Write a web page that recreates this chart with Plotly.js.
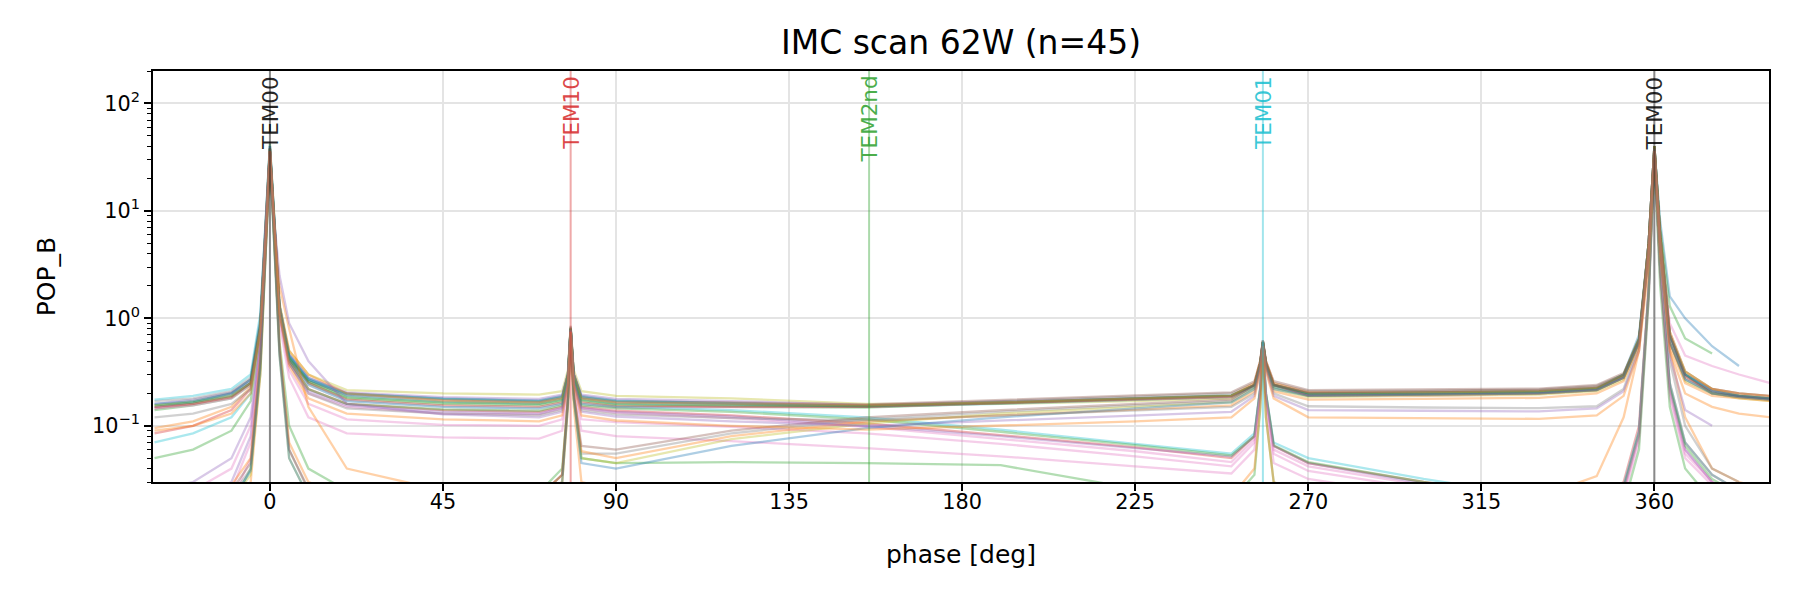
<!DOCTYPE html>
<html>
<head>
<meta charset="utf-8">
<script src="https://cdn.plot.ly/plotly-3.0.1.min.js"></script>
<style>
  html, body { margin: 0; padding: 0; background: #fff; }
  #plotDiv { width: 1800px; height: 600px; }
</style>
</head>
<body>
<div id="plotDiv"></div>
<script>
// IMC phase scans, POP_B vs phase.
// all scans share one phase grid (denser around the resonances).
const phase = [
  -30, -20, -10, -5, -2.5, -1, 0, 1, 2.5, 5, 10, 20, 45, 70, 76, 77.5, 78.2, 79, 81, 90, 120, 155,
  190, 225, 250, 256, 257.5, 258.2, 259, 261, 270, 300, 330, 345, 352, 356, 358.5, 360, 361.5, 364, 368, 375, 382, 390
];

// upper band
const scan01 = [0.155,0.17,0.2,0.27,0.9,8,42,11,1.4,0.5,0.3,0.215,0.2,0.195,0.21,0.33,0.85,0.33,0.21,0.19,0.18,0.16,
  0.16,0.17,0.18,0.23,0.37,0.6,0.37,0.23,0.19,0.195,0.2,0.215,0.28,0.6,4.5,40,5,0.7,0.32,0.22,0.19,0.18];
const scan02 = [0.15,0.165,0.2,0.26,0.85,7,38,9,1.3,0.46,0.28,0.2,0.18,0.172,0.19,0.3,0.8,0.3,0.19,0.172,0.163,0.152,
  0.165,0.18,0.19,0.24,0.38,0.6,0.38,0.24,0.2,0.2,0.205,0.22,0.3,0.7,5,38,8,1.6,1.0,0.55,0.36,null];
const scan03 = [0.16,0.175,0.205,0.27,0.95,8,40,10,1.3,0.46,0.28,0.205,0.185,0.178,0.195,0.31,0.85,0.31,0.195,0.178,0.17,0.156,
  0.168,0.182,0.192,0.24,0.38,0.62,0.38,0.24,0.2,0.202,0.208,0.222,0.29,0.62,5,40,6,0.7,0.3,0.21,0.19,0.18];
const scan04 = [0.17,0.18,0.21,0.28,1.0,9,40,10,1.3,0.44,0.27,0.2,0.178,0.17,0.185,0.3,0.82,0.3,0.185,0.17,0.163,0.155,
  0.17,0.188,0.2,0.25,0.4,0.62,0.4,0.25,0.21,0.212,0.218,0.235,0.3,0.65,5,40,6,0.75,0.32,0.22,0.2,0.19];
const scan05 = [0.145,0.16,0.19,0.25,0.85,7,38,9,1.2,0.42,0.26,0.195,0.175,0.168,0.185,0.3,0.8,0.3,0.185,0.168,0.165,0.158,
  0.175,0.192,0.205,0.26,0.4,0.62,0.4,0.26,0.215,0.218,0.222,0.24,0.31,0.65,5,40,6,0.7,0.3,0.22,0.2,0.19];
const scan06 = [0.175,0.19,0.22,0.3,1.1,9,42,10,1.3,0.44,0.27,0.198,0.178,0.17,0.185,0.3,0.82,0.3,0.185,0.17,0.16,0.15,
  0.16,0.175,0.185,0.23,0.37,0.6,0.37,0.23,0.195,0.198,0.205,0.22,0.29,0.6,5,40,6,0.7,0.3,0.21,0.19,0.18];
const scan07 = [0.14,0.155,0.18,0.24,0.8,7,38,9,1.2,0.42,0.25,0.18,0.16,0.155,0.17,0.28,0.8,0.28,0.17,0.155,0.15,0.148,
  0.162,0.178,0.19,0.24,0.38,0.6,0.38,0.24,0.195,0.198,0.205,0.22,0.29,0.6,5,40,6,0.7,0.3,0.2,0.19,0.18];
const scan08 = [0.145,0.155,0.18,0.24,0.8,7,36,9,1.2,0.4,0.24,0.17,0.15,0.145,0.16,0.27,0.78,0.27,0.16,0.148,0.148,0.15,
  0.165,0.178,0.188,0.24,0.38,0.6,0.38,0.24,0.19,0.19,0.198,0.215,0.28,0.6,5,38,6,0.9,0.45,0.36,0.3,0.25];
const scan09 = [0.15,0.16,0.185,0.25,0.8,7,38,9,1.2,0.42,0.25,0.175,0.155,0.15,0.165,0.28,0.8,0.28,0.165,0.152,0.15,0.15,
  0.162,0.175,0.185,0.24,0.38,0.6,0.38,0.24,0.192,0.195,0.2,0.215,0.28,0.6,5,40,6,0.7,0.29,0.2,0.185,0.175];
const scan10 = [0.16,0.17,0.2,0.27,0.9,8,40,10,1.3,0.45,0.27,0.19,0.168,0.162,0.178,0.3,0.82,0.3,0.178,0.162,0.158,0.153,
  0.165,0.18,0.19,0.24,0.38,0.62,0.38,0.24,0.2,0.205,0.21,0.225,0.29,0.62,5,40,6,0.7,0.3,0.21,0.19,0.18];
const scan11 = [0.155,0.165,0.19,0.25,0.85,7,38,9,1.2,0.43,0.26,0.185,0.165,0.16,0.175,0.29,0.8,0.29,0.175,0.16,0.155,0.152,
  0.165,0.18,0.192,0.24,0.38,0.6,0.38,0.24,0.2,0.205,0.21,0.225,0.3,0.65,5,40,7,1.3,0.65,0.47,null,null];
const scan12 = [0.095,0.11,0.15,0.23,0.8,7,38,9,1.3,0.5,0.3,0.2,0.172,0.165,0.18,0.3,0.82,0.3,0.18,0.165,0.16,0.155,
  0.165,0.18,0.19,0.25,0.4,0.62,0.4,0.25,0.205,0.205,0.21,0.225,0.29,0.62,5,40,6,0.75,0.32,0.22,0.2,0.19];

// scans that fall off after TEM10
const scan13 = [0.085,0.1,0.14,0.22,0.8,7,38,9,1.2,0.4,0.22,0.16,0.14,0.135,0.15,0.27,0.8,0.27,0.15,0.138,0.125,0.105,
  0.082,0.063,0.05,0.08,0.22,0.55,0.2,0.065,0.045,0.03,0.022,0.02,0.03,0.1,2,35,3,0.25,0.07,0.035,0.025,0.02];
const scan14 = [0.02,0.025,0.04,0.1,0.6,6,36,8,1.1,0.38,0.2,0.15,0.13,0.128,0.145,0.26,0.78,0.26,0.145,0.132,0.118,0.098,
  0.075,0.058,0.046,0.075,0.2,0.55,0.18,0.06,0.042,0.028,0.02,0.018,0.025,0.08,1.8,34,3,0.22,0.06,0.03,0.022,0.02];
const scan15 = [0.07,0.085,0.12,0.2,0.8,7,38,9,1.2,0.42,0.24,0.17,0.15,0.145,0.16,0.28,0.8,0.28,0.16,0.15,0.14,0.12,
  0.092,0.068,0.055,0.085,0.23,0.58,0.2,0.07,0.05,0.032,0.022,0.02,0.028,0.09,1.8,35,3,0.25,0.07,0.035,0.025,0.02];
const scan16 = [0.015,0.02,0.03,0.08,0.6,6,35,8,1.1,0.38,0.21,0.155,0.135,0.13,0.147,0.26,0.78,0.26,0.147,0.135,0.122,0.1,
  0.08,0.062,0.052,0.08,0.22,0.55,0.19,0.065,0.045,0.029,0.021,0.019,0.027,0.085,1.8,34,3,0.22,0.06,0.03,0.022,0.02];
const scan17 = [0.05,0.06,0.09,0.17,0.7,6,36,8,1.1,0.4,0.22,0.16,0.142,0.138,0.155,0.27,0.8,0.27,0.155,0.145,0.135,0.115,
  0.088,0.066,0.053,0.08,0.22,0.56,0.2,0.066,0.046,0.03,0.021,0.019,0.026,0.085,1.8,35,3,0.23,0.065,0.032,0.023,0.02];
const scan18 = [0.012,0.015,0.025,0.07,0.5,5,34,7,1.0,0.33,0.16,0.115,0.102,0.1,0.115,0.24,0.75,0.24,0.115,0.108,0.098,0.085,
  0.068,0.052,0.042,0.07,0.2,0.52,0.18,0.055,0.038,0.026,0.019,0.017,0.024,0.08,1.6,32,2.5,0.2,0.055,0.03,0.02,0.018];
const scan19 = [0.01,0.012,0.02,0.05,0.4,5,32,7,0.9,0.28,0.12,0.085,0.078,0.076,0.09,0.22,0.7,0.22,0.09,0.08,0.072,0.062,
  0.052,0.042,0.036,0.06,0.18,0.5,0.16,0.045,0.032,0.022,0.017,0.016,0.022,0.07,1.5,30,2.5,0.18,0.05,0.028,0.02,0.018];
const scan20 = [0.01,0.012,0.018,0.04,0.3,4,30,6,0.6,0.1,0.04,0.025,0.022,0.024,0.04,0.18,0.7,0.18,0.05,0.045,0.046,0.045,
  0.043,0.026,0.02,0.035,0.14,0.45,0.12,0.03,0.018,0.014,0.012,0.012,0.018,0.06,1.5,30,2,0.15,0.04,0.02,0.015,0.015];
const scan21 = [0.012,0.014,0.018,0.03,0.3,5,32,8,2,0.8,0.15,0.04,0.025,0.022,0.03,0.15,0.7,0.15,0.03,0.025,0.022,0.02,
  0.02,0.02,0.022,0.04,0.15,0.45,0.12,0.03,0.022,0.02,0.022,0.034,0.12,0.5,3,34,4,0.5,0.12,0.04,0.03,0.025];

// scans that climb back after TEM10
const scan22 = [0.015,0.018,0.022,0.04,0.4,6,36,7,0.5,0.06,0.025,0.02,0.02,0.022,0.035,0.18,0.75,0.2,0.055,0.055,0.085,0.115,
  0.135,0.155,0.17,0.23,0.37,0.6,0.37,0.23,0.19,0.195,0.2,0.215,0.28,0.6,4,38,5,0.6,0.27,0.2,0.185,0.175];
const scan23 = [0.012,0.015,0.02,0.035,0.35,5,34,6,0.45,0.05,0.022,0.018,0.018,0.02,0.03,0.16,0.72,0.18,0.05,0.045,0.075,0.105,
  0.13,0.15,0.165,0.22,0.36,0.6,0.36,0.22,0.185,0.19,0.195,0.21,0.27,0.58,4,36,5,0.6,0.26,0.2,0.18,0.17];
const scan24 = [0.02,0.022,0.028,0.05,0.45,6,36,7,0.55,0.07,0.03,0.022,0.02,0.022,0.035,0.18,0.75,0.2,0.058,0.05,0.08,0.11,
  0.125,0.14,0.155,0.21,0.35,0.58,0.35,0.21,0.175,0.178,0.182,0.2,0.26,0.55,4,36,5,0.55,0.25,0.19,0.18,0.17];
const scan25 = [0.018,0.02,0.025,0.045,0.4,6,36,7,0.5,0.06,0.026,0.02,0.02,0.022,0.035,0.18,0.75,0.2,0.065,0.06,0.09,0.12,
  0.14,0.16,0.175,0.24,0.38,0.6,0.38,0.24,0.205,0.21,0.215,0.23,0.3,0.62,4.5,38,5,0.6,0.28,0.21,0.19,0.18];
const scan26 = [0.013,0.016,0.02,0.038,0.35,5,34,6,0.45,0.05,0.022,0.018,0.018,0.02,0.03,0.16,0.72,0.18,0.045,0.04,0.065,0.095,
  0.12,0.145,0.165,0.22,0.36,0.6,0.36,0.22,0.19,0.195,0.2,0.215,0.28,0.6,4,36,5,0.6,0.27,0.2,0.185,0.175];

// lower flat scans after TEM01
const scan27 = [0.12,0.13,0.16,0.22,0.8,7,36,8,1.1,0.38,0.2,0.145,0.13,0.125,0.14,0.26,0.78,0.26,0.14,0.128,0.118,0.112,
  0.125,0.14,0.15,0.2,0.35,0.58,0.35,0.2,0.152,0.148,0.146,0.152,0.22,0.55,4,38,5,0.4,0.1,0.04,0.03,null];
const scan28 = [0.025,0.03,0.05,0.12,0.6,6,36,9,2.5,0.9,0.4,0.16,0.128,0.12,0.135,0.25,0.76,0.25,0.135,0.122,0.11,0.1,
  0.112,0.125,0.135,0.19,0.33,0.56,0.33,0.19,0.14,0.138,0.136,0.145,0.21,0.5,4,36,5,0.45,0.14,0.1,null,null];
const scan29 = [0.09,0.1,0.13,0.2,0.75,6,36,8,1.1,0.36,0.18,0.13,0.115,0.11,0.125,0.24,0.75,0.24,0.125,0.112,0.1,0.092,
  0.1,0.11,0.12,0.18,0.32,0.55,0.32,0.18,0.12,0.118,0.116,0.125,0.19,0.5,4,36,5,0.5,0.2,0.15,0.13,0.12];

const scans = [scan01, scan02, scan03, scan04, scan05, scan06, scan07, scan08, scan09, scan10,
  scan11, scan12, scan13, scan14, scan15, scan16, scan17, scan18, scan19, scan20,
  scan21, scan22, scan23, scan24, scan25, scan26, scan27, scan28, scan29];
const scanColors = [
  '#bcbd22', '#1f77b4', '#9467bd', '#7f7f7f', '#8c564b', '#17becf', '#2ca02c', '#e377c2', '#d62728', '#1f77b4',
  '#2ca02c', '#ff7f0e', '#d62728', '#e377c2', '#17becf', '#9467bd', '#2ca02c', '#e377c2', '#e377c2', '#2ca02c',
  '#ff7f0e', '#7f7f7f', '#bcbd22', '#ff7f0e', '#8c564b', '#1f77b4', '#7f7f7f', '#9467bd', '#ff7f0e'
];

// cavity mode markers
const modeNames = ['TEM00', 'TEM10', 'TEM2nd', 'TEM01', 'TEM00'];
const modePhase = [0, 78.2, 155.8, 258.2, 360];
const modeColors = ['#000000', '#d62728', '#2ca02c', '#17becf', '#000000'];

const xTicks = [0, 45, 90, 135, 180, 225, 270, 315, 360];
const yTicks = [0.1, 1, 10, 100];
const yTickText = ['10<sup>\u22121</sup>', '10<sup>0</sup>', '10<sup>1</sup>', '10<sup>2</sup>'];
const yMinor = [0.03, 0.04, 0.05, 0.06, 0.07, 0.08, 0.09, 0.2, 0.3, 0.4, 0.5, 0.6, 0.7, 0.8, 0.9,
  2, 3, 4, 5, 6, 7, 8, 9, 20, 30, 40, 50, 60, 70, 80, 90, 200];

function hexToRgba(hex, a) {
    const r = parseInt(hex.slice(1, 3), 16);
    const g = parseInt(hex.slice(3, 5), 16);
    const b = parseInt(hex.slice(5, 7), 16);
    return `rgba(${r},${g},${b},${a})`;
}

const FONT = 'DejaVu Sans, Liberation Sans, sans-serif';

const traces = scans.map((vals, i) => ({
    x: phase,
    y: vals,
    type: 'scatter',
    mode: 'lines',
    showlegend: false,
    hoverinfo: 'skip',
    connectgaps: false,
    line: { color: hexToRgba(scanColors[i], 0.36), width: 2.3 },
}));

const shapes = modePhase.map((p, i) => ({
    type: 'line', xref: 'x', yref: 'paper',
    x0: p, x1: p, y0: 0, y1: 1,
    line: { color: hexToRgba(modeColors[i], 0.4), width: 2 },
    layer: 'above',
}));

const annotations = modePhase.map((p, i) => ({
    x: p, xref: 'x', y: 1, yref: 'paper',
    xanchor: 'center', yanchor: 'top', yshift: -3,
    text: modeNames[i], textangle: -90, showarrow: false,
    font: { family: FONT, size: 21.5, color: hexToRgba(modeColors[i], 0.85) },
}));

const layout = {
    width: 1800, height: 600,
    paper_bgcolor: '#ffffff', plot_bgcolor: '#ffffff',
    font: { family: FONT, color: '#000000', size: 20.8 },
    margin: { l: 153, r: 31, t: 71, b: 118 },
    title: {
        text: 'IMC scan 62W (n=45)',
        font: { family: FONT, size: 33, color: '#000000' },
        x: 0.5, xref: 'paper', y: 1 - 42.5 / 600, yref: 'container', yanchor: 'middle',
    },
    xaxis: {
        range: [-30.4, 389.8],
        tickmode: 'array', tickvals: xTicks,
        ticks: 'outside', ticklen: 7, tickwidth: 1.7, tickcolor: '#000000',
        ticklabelstandoff: -7,
        showline: true, linecolor: '#000000', linewidth: 1.8, mirror: true,
        showgrid: true, gridcolor: '#e4e4e4', gridwidth: 1.5,
        zeroline: false,
        tickfont: { family: FONT, size: 20.8, color: '#000000' },
        title: { text: 'phase [deg]', font: { family: FONT, size: 25, color: '#000000' }, standoff: 33 },
    },
    yaxis: {
        type: 'log',
        range: [Math.log10(0.03), Math.log10(200)],
        tickmode: 'array', tickvals: yTicks, ticktext: yTickText,
        ticks: 'outside', ticklen: 7, tickwidth: 1.7, tickcolor: '#000000',
        minor: { tickmode: 'array', tickvals: yMinor, ticks: 'outside', ticklen: 4, tickwidth: 1.2, tickcolor: '#000000', showgrid: false },
        showline: true, linecolor: '#000000', linewidth: 1.8, mirror: true,
        showgrid: true, gridcolor: '#e4e4e4', gridwidth: 1.5,
        zeroline: false,
        tickfont: { family: FONT, size: 20.8, color: '#000000' },
        title: { text: 'POP_B', font: { family: FONT, size: 25, color: '#000000' }, standoff: 29 },
    },
    shapes,
    annotations,
};

Plotly.newPlot('plotDiv', traces, layout, { displayModeBar: false });
</script>
</body>
</html>
